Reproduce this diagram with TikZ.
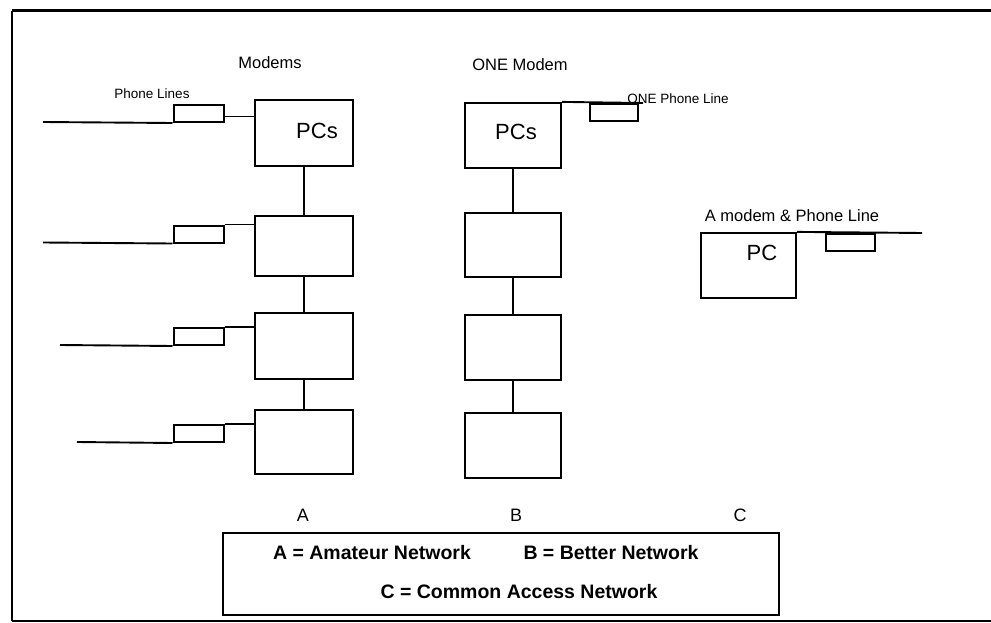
\documentclass[tikz,border=0pt]{standalone}
\usepackage{fontspec}
\setmainfont{Liberation Sans}
\newcommand{\fs}[1]{\fontsize{#1}{#1}\selectfont}
\begin{document}
\begin{tikzpicture}[x=1pt,y=-1pt,
  pcbox/.style={draw,line width=2.2pt,minimum width=#1,inner sep=0pt},
  modembox/.style={draw,line width=2pt,minimum width=50,minimum height=17,inner sep=0pt},
  conn/.style={line width=1.9pt},
  lbl/.style={inner sep=0pt,font=\fs{16.5}},
  small/.style={inner sep=0pt,font=\fs{13.5}},
  big/.style={inner sep=0pt,font=\fs{22}},
  letter/.style={inner sep=0pt,font=\fs{18}},
  legend/.style={inner sep=0pt,font=\fs{19.5}\bfseries}]
\useasboundingbox (0,0) rectangle (991,623);
% frame
\coordinate (fTL) at (12,11);
\coordinate (fTR) at (991,11);
\coordinate (fBL) at (12,621);
\coordinate (fBR) at (991,621);
\draw[line width=3pt] (fTR) -- (fTL);
\draw[line width=2.4pt] (fTL) -- (fBL);
\draw[line width=1.4pt] (fBL) -- (fBR);
% column A
\node[pcbox=98,minimum height=66] (a1) at (304,133) {};
\node[pcbox=98,minimum height=60] (a2) at (304,246) {};
\node[pcbox=98,minimum height=66] (a3) at (304,346) {};
\node[pcbox=98,minimum height=64] (a4) at (304,442) {};
\node[big] (a1t) at (317,131) {PCs};
\draw[conn] (a1) -- (a2);
\draw[conn] (a2) -- (a3);
\draw[conn] (a3) -- (a4);
\node[modembox] (m1) at (198.5,113.5) {};
\node[modembox] (m2) at (198.5,234) {};
\node[modembox] (m3) at (198.5,336.5) {};
\node[modembox] (m4) at (198.5,433.5) {};
\draw[conn] ([yshift=-3]m1.east) -- ([yshift=-3]m1.east -| a1.west);
\draw[conn] (m2.north east) -- (m2.north east -| a2.west);
\draw[conn] (m3.north east) -- (m3.north east -| a3.west);
\draw[conn] (m4.north east) -- (m4.north east -| a4.west);
\coordinate (pl1) at (43,122);
\coordinate (pl2) at (43,242.5);
\coordinate (pl3) at (60,345);
\coordinate (pl4) at (77,442);
\draw[conn] (pl1) -- (m1.south west);
\draw[conn] (pl2) -- (m2.south west);
\draw[conn] (pl3) -- (m3.south west);
\draw[conn] (pl4) -- (m4.south west);
\node[lbl] (modems) at (270,63) {Modems};
\node[small] (phl) at (152,94) {Phone Lines};
% column B
\node[pcbox=96,minimum height=65] (b1) at (513,135.5) {};
\node[pcbox=96,minimum height=64] (b2) at (513,245) {};
\node[pcbox=96,minimum height=65] (b3) at (513,347.5) {};
\node[pcbox=96,minimum height=65] (b4) at (513,445.5) {};
\node[big] (b1t) at (516,132) {PCs};
\draw[conn] (b1) -- (b2);
\draw[conn] (b2) -- (b3);
\draw[conn] (b3) -- (b4);
\node[modembox,minimum width=48,anchor=north] (mb) at (614,103) {};
\coordinate (plb) at (643,103);
\draw[conn] (b1.north east) -- (plb);
\node[lbl] (onem) at (520,65) {ONE Modem};
\node[small] (onepl) at (678,99) {ONE Phone Line};
% column C
\node[pcbox=95,minimum height=65] (c1) at (748.5,265.5) {};
\node[big] (c1t) at (762,253) {PC};
\node[modembox,minimum width=49,anchor=north] (mc) at (850.5,233) {};
\coordinate (plc) at (922,233);
\draw[conn] (c1.north east) -- (plc);
\node[lbl] (cl) at (792,216) {A modem \& Phone Line};
% letters
\node[letter] (la) at (303,515) {A};
\node[letter] (lb) at (516,515) {B};
\node[letter] (lc) at (740,515) {C};
% legend
\node[draw,line width=2.2pt,minimum width=556,minimum height=82,inner sep=0pt] (leg) at (501,574) {};
\node[legend] (lga) at (372,553) {A = Amateur Network};
\node[legend] (lgb) at (611,553) {B = Better Network};
\node[legend] (lgc) at (519,592) {C = Common Access Network};
\end{tikzpicture}
\end{document}
